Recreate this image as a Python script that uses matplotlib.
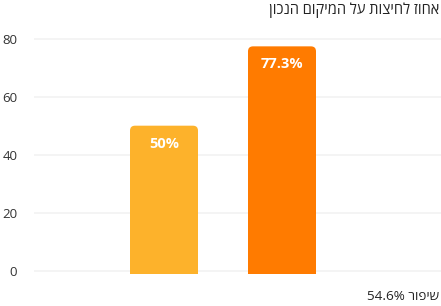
import matplotlib
matplotlib.use("Agg")
import matplotlib.pyplot as plt
from matplotlib.patches import FancyBboxPatch, Rectangle

categories = ["A", "B"]
values = [50, 77.3]
labels = ["50%", "77.3%"]
colors = ["#FDB22B", "#FF7B00"]
yticks = [0, 20, 40, 60, 80]
title = "אחוז לחיצות על המיקום הנכון"
footer_num = "54.6%"
footer_word = "שיפור"

plt.rcParams['font.family'] = ['Open Sans', 'DejaVu Sans']

W, H = 441, 306
fig = plt.figure(figsize=(W / 100, H / 100), dpi=100)
ax_left, ax_right = 34, 441
y0_px, y80_px = 271, 38.5
ppu = (y0_px - y80_px) / 80.0
ax_bottom_px = 276
ax_top_px = 30
ax = fig.add_axes([ax_left / W, 1 - ax_bottom_px / H, (ax_right - ax_left) / W,
                   (ax_bottom_px - ax_top_px) / H])
ymin = -(ax_bottom_px - y0_px) / ppu
ymax = (y0_px - ax_top_px) / ppu
ax.set_ylim(ymin, ymax)

band = 118.0
c0 = 164.0
ax.set_xlim((ax_left - c0) / band, (ax_right - c0) / band)
bw = 68 / band

x = list(range(len(categories)))
bars = ax.bar(x, values, width=bw, color=colors, zorder=2)

r_px = 5.0
aspect = band / ppu
for b, col in zip(bars, colors):
    bx, by = b.get_x(), b.get_y()
    bwid, bh = b.get_width(), b.get_height()
    b.set_visible(False)
    p = FancyBboxPatch((bx, by - 3), bwid, bh + 3,
                       boxstyle=f"round,pad=0,rounding_size={r_px / band}",
                       mutation_aspect=aspect, facecolor=col, edgecolor='none', zorder=2)
    ax.add_patch(p)
    clip = Rectangle((bx - 1, -0.9), bwid + 2, 200, transform=ax.transData)
    p.set_clip_path(clip)

for xi, v, lab in zip(x, values, labels):
    ax.annotate(lab, (xi, v), xytext=(0, -18), textcoords='offset pixels',
                ha='center', va='center', color='white', fontsize=10.5,
                fontweight='bold', zorder=3)

ax.set_yticks(yticks)
ax.set_xticks([])
ax.grid(axis='y', color='#f2f2f2', linewidth=1.2, zorder=0)
for s in ax.spines.values():
    s.set_visible(False)
ax.tick_params(axis='y', length=0, pad=12, labelsize=9.5, labelcolor='#333333')

fig.text(439 / W, 1 - 10 / H, title[::-1], ha='right', va='center', fontsize=10.5,
         color='#222222', family=['Open Sans', 'DejaVu Sans'])
fig.text(439 / W, 1 - 296 / H, footer_num + " " + footer_word[::-1], ha='right',
         va='center', fontsize=9.7, color='#222222', family=['Open Sans', 'DejaVu Sans'])

fig.savefig("out.png", dpi=100)
